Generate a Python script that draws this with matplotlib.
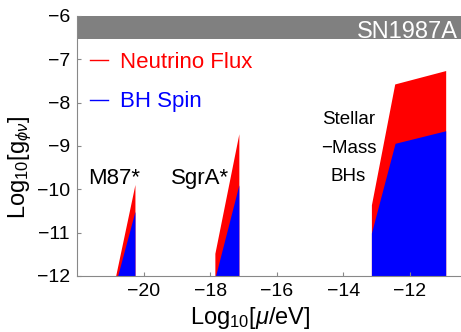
import matplotlib
matplotlib.use("Agg")
import matplotlib.pyplot as plt

plt.rcParams['font.family'] = ['Liberation Sans', 'DejaVu Sans']
plt.rcParams['mathtext.fontset'] = 'custom'
plt.rcParams['mathtext.rm'] = 'Liberation Sans'
plt.rcParams['mathtext.it'] = 'Liberation Sans:italic'

# bound curves (log10 mu, log10 g) for each black-hole population
m87_flux_x = [-20.84, -20.26]
m87_flux_y = [-12.0, -9.89]
m87_spin_x = [-20.78, -20.26]
m87_spin_y = [-12.0, -10.51]

sgra_flux_x = [-17.86, -17.86, -17.14]
sgra_flux_y = [-12.0, -11.48, -8.72]
sgra_spin_x = [-17.84, -17.14]
sgra_spin_y = [-12.0, -9.90]

stellar_flux_x = [-13.16, -13.16, -12.46, -10.93]
stellar_flux_y = [-12.0, -10.36, -7.57, -7.26]
stellar_spin_x = [-13.16, -13.16, -12.45, -10.93]
stellar_spin_y = [-12.0, -11.01, -8.94, -8.65]

sn1987a_limit = -6.54
xticks = [-20, -18, -16, -14, -12]
yticks = [-12, -11, -10, -9, -8, -7, -6]

fig = plt.figure(figsize=(4.61, 3.32), dpi=100)
ax = fig.add_axes([0.167, 0.169, 0.833, 0.783])
ax.set_xlim(-22, -10.47)
ax.set_ylim(-12, -6)

# SN1987A band
ax.axhspan(sn1987a_limit, -6, color='#808080', lw=0)
ax.text(-10.55, -6.5, 'SN1987A', color='white', fontsize=17,
        ha='right', va='baseline')

flux_sets = [(m87_flux_x, m87_flux_y), (sgra_flux_x, sgra_flux_y), (stellar_flux_x, stellar_flux_y)]
spin_sets = [(m87_spin_x, m87_spin_y), (sgra_spin_x, sgra_spin_y), (stellar_spin_x, stellar_spin_y)]
for x, y in flux_sets:
    ax.fill_between(x, y, -12, color='red', lw=0)
for x, y in spin_sets:
    ax.fill_between(x, y, -12, color='blue', lw=0)

# labels
ax.text(-20.87, -9.88, 'M87*', fontsize=16, ha='center', va='baseline')
ax.text(-18.31, -9.88, 'SgrA*', fontsize=16, ha='center', va='baseline')
ax.text(-13.85, -8.50, 'Stellar', fontsize=13.5, ha='center', va='baseline')
ax.text(-13.85, -9.17, '\u2212Mass', fontsize=13.5, ha='center', va='baseline')
ax.text(-13.85, -9.82, 'BHs', fontsize=13.5, ha='center', va='baseline')

# legend
ax.plot([-21.61, -21.07], [-7.01, -7.01], color='red', lw=1)
ax.plot([-21.61, -21.07], [-7.93, -7.93], color='blue', lw=1)
ax.text(-20.71, -7.20, 'Neutrino Flux', color='red', fontsize=16, va='baseline')
ax.text(-20.71, -8.10, 'BH Spin', color='blue', fontsize=16, va='baseline')

ax.set_xticks(xticks)
ax.set_yticks(yticks)
ax.set_xticklabels(['\u2212%d' % abs(t) for t in xticks])
ax.set_yticklabels(['\u2212%d' % abs(t) for t in yticks])
ax.tick_params(direction='in', length=3, color='#888888', labelsize=14, pad=5)
for s in ['top', 'right']:
    ax.spines[s].set_visible(False)
for s in ['left', 'bottom']:
    ax.spines[s].set_color('#888888')

ax.set_xlabel(r'Log$_{10}$[$\mu$/eV]', fontsize=17, labelpad=4)
ax.set_ylabel(r'Log$_{10}$[g$_{\phi\nu}$]', fontsize=17, labelpad=2)
ax.xaxis.label.set_x(0.45)
ax.yaxis.label.set_y(0.42)

fig.savefig('out.png', dpi=100)
